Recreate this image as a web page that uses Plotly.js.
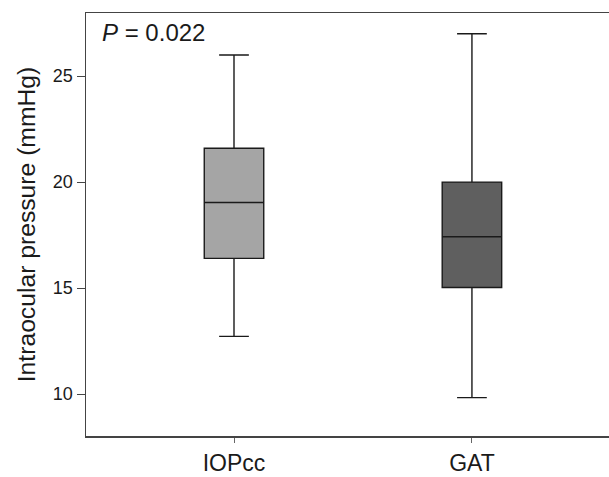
<!DOCTYPE html>
<html>
<head>
<meta charset="utf-8">
<script src="https://cdn.plot.ly/plotly-3.0.1.min.js"></script>
<style>html,body{margin:0;padding:0;background:#fff;}#chart{width:609px;height:477px;}</style>
</head>
<body>
<div id="chart"></div>
<script>
const categories = ["IOPcc", "GAT"];
const lowerWhisker = [12.72, 9.83];
const q1Values = [16.4, 15.03];
const medianValues = [19.04, 17.42];
const q3Values = [21.6, 20.0];
const upperWhisker = [26.0, 27.0];
const fillColors = ["#a5a5a5", "#5f5f5f"];
const yTicks = [10, 15, 20, 25];
const pLabel = "<i>P</i> = 0.022";

const traces = categories.map((c, i) => ({
  type: "box",
  x: [c],
  lowerfence: [lowerWhisker[i]],
  q1: [q1Values[i]],
  median: [medianValues[i]],
  q3: [q3Values[i]],
  upperfence: [upperWhisker[i]],
  fillcolor: fillColors[i],
  line: {color: "#1a1a1a", width: 1.4},
  width: 0.25,
  whiskerwidth: 0.5,
  boxpoints: false,
  hoverinfo: "skip",
  showlegend: false
}));

const font = "Liberation Sans, Arial, sans-serif";
const layout = {
  width: 609, height: 477,
  margin: {l: 86, r: 0, t: 13, b: 41},
  paper_bgcolor: "#fff", plot_bgcolor: "#fff",
  showlegend: false,
  font: {family: font, color: "#1a1a1a"},
  xaxis: {
    type: "category",
    categoryorder: "array", categoryarray: categories,
    range: [-0.622, 1.576],
    showgrid: false, zeroline: false,
    showline: true, linecolor: "#444", linewidth: 1.5, mirror: true,
    ticks: "outside", ticklen: 5, tickwidth: 1, tickcolor: "#666",
    tickfont: {size: 23, family: font, color: "#1a1a1a"},
    ticklabelstandoff: 1
  },
  yaxis: {
    range: [8.02, 27.98],
    tickvals: yTicks,
    showgrid: false, zeroline: false,
    showline: true, linecolor: "#444", linewidth: 1.5,
    ticks: "outside", ticklen: 8, tickwidth: 1, tickcolor: "#444",
    tickfont: {size: 18, family: font, color: "#1a1a1a"},
    title: {text: "Intraocular pressure (mmHg)", font: {size: 24.7, family: font, color: "#1a1a1a"}, standoff: 10}
  },
  annotations: [{
    text: pLabel, xref: "paper", yref: "paper",
    x: 0.027, y: 0.99, xanchor: "left", yanchor: "top",
    showarrow: false,
    font: {size: 24, family: font, color: "#1a1a1a"}
  }]
};

Plotly.newPlot("chart", traces, layout, {staticPlot: true, displayModeBar: false});
</script>
</body>
</html>
